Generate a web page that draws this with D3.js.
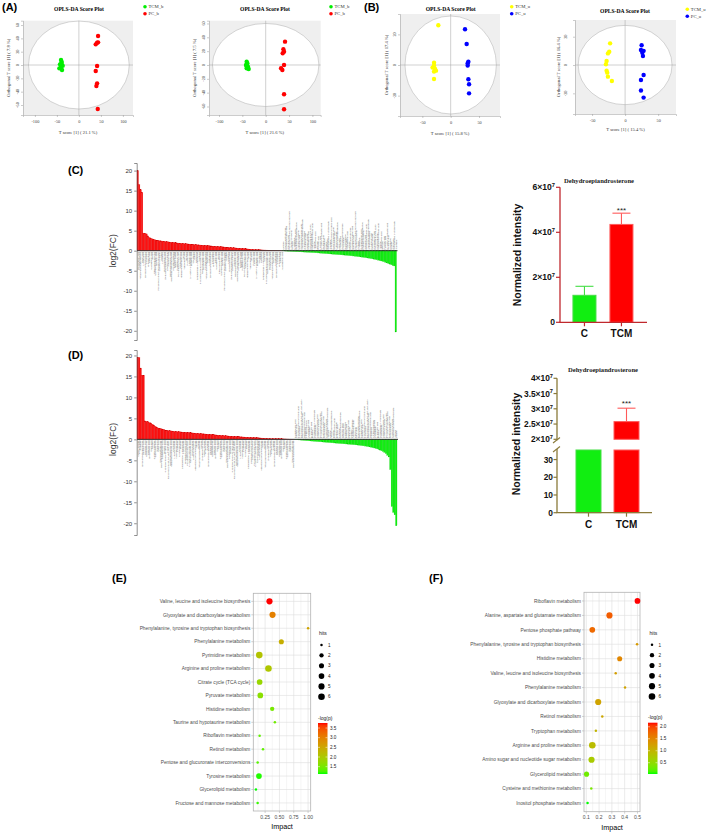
<!DOCTYPE html>
<html><head><meta charset="utf-8">
<script src="https://cdn.jsdelivr.net/npm/d3@7"></script>
<style>body{margin:0;background:#fff}svg{display:block}</style>
</head><body>
<svg id="chart" width="709" height="833"></svg>
<script>
// ---------------- DATA ----------------
const scoreA1_TCM=[[-40.6,7.5],[-39,4.5],[-42.9,1],[-36.8,-1],[-44.4,-5],[-38.3,-7.5],[-40.6,-2.5],[-39.8,2.5]];
const scoreA1_PC=[[43.6,43.5],[41.4,33.5],[38.3,31],[43.6,34],[41.4,-1.5],[38.3,-9],[41.4,-27.5],[39.8,-31.5],[42.9,-66]];
const scoreA2_TCM=[[-40.7,4.8],[-39.3,2.4],[-42.1,0],[-37.9,-2.4],[-40.7,-4.8],[-36.4,-5.8],[-41,-1.4]];
const scoreA2_PC=[[41.4,33.7],[37.9,22.7],[39.3,19.3],[36.4,16.9],[39.3,0],[32.9,-4.8],[35.7,-7.2],[39.3,-42.4],[39.3,-64]];
const scoreB1_TCM=[[-21.8,26],[-29.4,1.5],[-29.4,-0.4],[-28,-2.2],[-32,-1.7],[-25.9,-3.7],[-29.4,-4.3],[-29.4,-9.1]];
const scoreB1_PC=[[25.3,23.3],[28.2,13.7],[31.2,2.2],[30,1.1],[30,-0.3],[31.2,-9.3],[32.4,-12.6],[32.4,-18.5]];
const scoreB2_TCM=[[-22.7,15.3],[-24,9.4],[-26,8.2],[-28,2.8],[-29,0.5],[-28,-4],[-27,-5.4],[-26,-8.2],[-20,-11.3]];
const scoreB2_PC=[[25,14],[24,10.6],[28,10],[26,8.7],[27,6.4],[28,-7],[24,-10.6],[24,-18],[28,-23]];

const fcC_up=[20.0,16.5,15.2,14.6,4.4,4.35,4.2,3.7,3.3,3.1,2.95,2.8,2.7,2.6,2.55,2.5,2.45,2.4,2.35,2.3,2.25,2.2,2.15,2.1,2.05,2.0,1.97,1.94,1.9,1.87,1.84,1.8,1.77,1.74,1.7,1.67,1.64,1.6,1.57,1.54,1.5,1.47,1.44,1.41,1.38,1.35,1.32,1.29,1.26,1.23,1.2,1.17,1.14,1.11,1.08,1.05,1.02,0.99,0.96,0.93,0.9,0.87,0.84,0.81,0.78,0.75,0.72,0.69,0.66,0.63,0.6,0.57,0.54,0.51,0.48,0.45,0.42,0.39,0.36,0.33,0.3,0.28,0.26,0.24,0.22,0.2,0.18,0.17,0.16,0.15,0.14,0.13,0.12,0.11,0.1,0.09,0.08,0.07,0.06,0.05];
const fcC_down=[-0.05,-0.07,-0.09,-0.11,-0.13,-0.15,-0.17,-0.19,-0.21,-0.23,-0.25,-0.27,-0.29,-0.31,-0.33,-0.35,-0.37,-0.39,-0.41,-0.43,-0.45,-0.47,-0.5,-0.53,-0.56,-0.59,-0.62,-0.65,-0.68,-0.71,-0.74,-0.77,-0.8,-0.83,-0.86,-0.89,-0.92,-0.95,-0.98,-1.01,-1.04,-1.07,-1.1,-1.13,-1.16,-1.2,-1.24,-1.28,-1.32,-1.36,-1.4,-1.45,-1.5,-1.55,-1.6,-1.65,-1.7,-1.76,-1.82,-1.88,-1.95,-2.02,-2.1,-2.18,-2.26,-2.35,-2.45,-2.55,-2.65,-2.75,-2.9,-3.05,-3.2,-3.35,-3.5,-3.7,-3.8,-20.3];
const fcD_up=[19.5,19.5,17.0,15.3,15.3,4.4,4.3,4.2,4.0,3.9,3.6,3.4,3.1,2.9,2.7,2.6,2.5,2.4,2.3,2.2,2.15,2.1,2.05,2.0,1.95,1.9,1.87,1.84,1.81,1.78,1.75,1.72,1.69,1.66,1.63,1.6,1.57,1.54,1.51,1.48,1.45,1.42,1.39,1.36,1.33,1.3,1.27,1.24,1.21,1.18,1.15,1.12,1.09,1.06,1.03,1.0,0.97,0.94,0.91,0.88,0.85,0.82,0.79,0.76,0.73,0.7,0.68,0.66,0.64,0.62,0.6,0.58,0.56,0.54,0.52,0.5,0.48,0.46,0.44,0.42,0.4,0.38,0.36,0.34,0.32,0.3,0.28,0.26,0.24,0.22,0.2,0.19,0.18,0.17,0.16,0.15,0.14,0.13,0.12,0.11,0.1,0.09,0.08,0.07,0.06,0.05,0.04];
const fcD_down=[-0.05,-0.08,-0.11,-0.14,-0.17,-0.2,-0.23,-0.26,-0.29,-0.32,-0.35,-0.38,-0.41,-0.44,-0.47,-0.5,-0.53,-0.56,-0.59,-0.62,-0.65,-0.68,-0.71,-0.74,-0.77,-0.8,-0.83,-0.86,-0.89,-0.92,-0.95,-0.98,-1.01,-1.04,-1.07,-1.1,-1.13,-1.16,-1.19,-1.22,-1.25,-1.28,-1.32,-1.36,-1.4,-1.45,-1.5,-1.55,-1.6,-1.66,-1.72,-1.8,-1.88,-1.96,-2.05,-2.15,-2.25,-2.4,-2.55,-2.7,-2.9,-3.1,-3.4,-3.8,-4.2,-7.2,-16.0,-17.4,-18.0,-20.6];
const fcTicks=[-20,-15,-10,-5,0,5,10,15,20];
const metaboliteNames=["L-Carnitine","Dehydroepiandrosterone","Taurocholic acid","Glycocholic acid","Hippuric acid","Indoxyl sulfate","Uridine","Hypoxanthine","LysoPC(18:0/0:0)","Betaine","L-Phenylalanine","PE(18:0/22:6(4Z,7Z,10Z,13Z,16Z))","Pantothenic acid","Riboflavin","Citric acid","Succinic acid","Pyruvic acid","Tetrahydrocorticosterone","LysoPC(16:0/0:0)","PC(16:0/18:2(9Z,12Z))","Sphingosine 1-phosphate","Arachidonic acid","Docosahexaenoic acid","Linoleic acid","Oleic acid","Cortisol","Corticosterone","Xanthine","Inosine","Adenosine monophosphate","N-Acetyl-L-aspartic acid","L-Glutamine","L-Histidine","Imidazolepropionic acid","4-Hydroxyphenylpyruvic acid","Phenylacetylglycine","3-Methylhistidine","Retinoic acid","Glycerophosphocholine","D-Glucuronic acid","Taurine","trans-Cinnamic acid","Ursodeoxycholic acid","Kynurenic acid","Creatinine"];

const insetGroups=["C","TCM"];
const dheaC_mean=[1.2e7,4.35e7];
const dheaC_err=[0.4e7,0.5e7];
const dheaC_ticks=[0,2e7,4e7,6e7];
const dheaD_mean=[1.1e7,2.58e7];
const dheaD_err=[0,0.44e7];
const dheaD_ticksUpper=[2e7,2.5e7,3e7,3.5e7,4e7];
const dheaD_ticksLower=[0,10,20,30];

const pathwaysE=["Valine, leucine and isoleucine biosynthesis","Glyoxylate and dicarboxylate metabolism","Phenylalanine, tyrosine and tryptophan biosynthesis","Phenylalanine metabolism","Pyrimidine metabolism","Arginine and proline metabolism","Citrate cycle (TCA cycle)","Pyruvate metabolism","Histidine metabolism","Taurine and hypotaurine metabolism","Riboflavin metabolism","Retinol metabolism","Pentose and glucuronate interconversions","Tyrosine metabolism","Glycerolipid metabolism","Fructose and mannose metabolism"];
const impactE=[0.326,0.379,1.0,0.533,0.148,0.308,0.154,0.166,0.373,0.42,0.154,0.213,0.119,0.142,0.089,0.119];
const hitsE=[5,5,1,3,6,6,4,4,2,1,1,1,1,4,1,1];
const logpE=[3.76,3.0,2.55,2.4,2.1,2.05,1.78,1.65,1.5,1.45,1.35,1.35,1.3,1.15,1.12,1.2];
const impactTicksE=[0.25,0.5,0.75,1.0];
const logpTicksE=[1.5,2.0,2.5,3.0,3.5];

const pathwaysF=["Riboflavin metabolism","Alanine, aspartate and glutamate metabolism","Pentose phosphate pathway","Phenylalanine, tyrosine and tryptophan biosynthesis","Histidine metabolism","Valine, leucine and isoleucine biosynthesis","Phenylalanine metabolism","Glyoxylate and dicarboxylate metabolism","Retinol metabolism","Tryptophan metabolism","Arginine and proline metabolism","Amino sugar and nucleotide sugar metabolism","Glycerolipid metabolism","Cysteine and methionine metabolism","Inositol phosphate metabolism"];
const impactF=[0.5,0.281,0.147,0.497,0.361,0.33,0.403,0.193,0.225,0.175,0.147,0.141,0.102,0.139,0.11];
const hitsF=[4,5,4,1,3,1,1,5,1,1,6,5,3,1,1];
const logpF=[2.17,1.85,1.75,1.3,1.5,1.25,1.2,1.2,1.15,1.0,0.9,0.72,0.3,0.35,0.03];
const impactTicksF=[0.1,0.2,0.3,0.4,0.5];
const logpTicksF=[0.5,1.0,1.5,2.0];
const hitsLegend=[1,2,3,4,5,6];

// ---------------- DRAW ----------------
const svg=d3.select("#chart");
const SERIF="'Liberation Serif','Times New Roman',serif";
const SANS="'Liberation Sans',Arial,Helvetica,sans-serif";

function txt(g,s,x,y,o={}){
  const t=g.append("text").attr("x",x).attr("y",y).text(s)
    .attr("font-family",o.ff||SANS).attr("font-size",o.fs||6)
    .attr("fill",o.fill||"#000").attr("text-anchor",o.anchor||"start");
  if(o.fw) t.attr("font-weight",o.fw);
  if(o.rot!==undefined) t.attr("transform",`rotate(${o.rot},${x},${y})`);
  return t;
}

// panel letters
[["(A)",2,10.8],["(B)",364,10.8],["(C)",68,174],["(D)",68,359],["(E)",112,581.5],["(F)",429,581.5]]
 .forEach(d=>txt(svg,d[0],d[1],d[2],{fs:11,fw:"bold"}));

// ---- score plots ----
function scorePlot(c){
  const g=svg.append("g");
  const x=d3.scaleLinear().domain(c.xdom).range([c.x0,c.x0+c.w]);
  const y=d3.scaleLinear().domain(c.ydom).range([c.y0+c.h,c.y0]);
  g.append("rect").attr("x",c.x0).attr("y",c.y0).attr("width",c.w).attr("height",c.h).attr("fill","#efefef");
  g.append("ellipse").attr("cx",x(0)).attr("cy",y(0)).attr("rx",x(c.ell[0])-x(0)).attr("ry",y(0)-y(c.ell[1]))
    .attr("fill","#fff").attr("stroke","#b8b8b8").attr("stroke-width",0.6);
  g.append("line").attr("x1",x(0)).attr("x2",x(0)).attr("y1",c.y0).attr("y2",c.y0+c.h).attr("stroke","#a0a0a0").attr("stroke-width",0.5);
  g.append("line").attr("x1",c.x0).attr("x2",c.x0+c.w).attr("y1",y(0)).attr("y2",y(0)).attr("stroke","#a0a0a0").attr("stroke-width",0.5);
  const ax=g.append("g").attr("transform",`translate(0,${c.y0+c.h})`)
    .call(d3.axisBottom(x).tickValues(c.xt).tickSize(2).tickPadding(2.5).tickFormat(d=>String(d)));
  ax.select(".domain").attr("stroke","#999").attr("stroke-width",0.5);
  ax.selectAll(".tick line").attr("stroke","#999").attr("stroke-width",0.5);
  ax.selectAll(".tick text").attr("font-family",SERIF).attr("font-size",4.3).attr("fill","#444");
  const ay=g.append("g").attr("transform",`translate(${c.x0},0)`)
    .call(d3.axisLeft(y).tickValues(c.yt).tickSize(2).tickFormat(""));
  ay.select(".domain").attr("stroke","#999").attr("stroke-width",0.5);
  ay.selectAll(".tick line").attr("stroke","#999").attr("stroke-width",0.5);
  c.yt.forEach(t=>txt(g,String(t),c.yLabX,y(t),{ff:SERIF,fs:4.3,fill:"#444",anchor:"middle",rot:-90}));
  g.selectAll("circle.p1").data(c.g1).join("circle").attr("cx",d=>x(d[0])).attr("cy",d=>y(d[1])).attr("r",2.2).attr("fill",c.c1);
  g.selectAll("circle.p2").data(c.g2).join("circle").attr("cx",d=>x(d[0])).attr("cy",d=>y(d[1])).attr("r",2.2).attr("fill",c.c2);
  txt(g,"OPLS-DA Score Plot",c.titleX,c.titleY,{ff:SERIF,fs:5.6,fw:"bold",anchor:"middle"});
  txt(g,c.xTitle,c.x0+c.w/2,c.xTitleY,{ff:SERIF,fs:4.6,fill:"#333",anchor:"middle"});
  txt(g,c.yTitle,c.yTitleX,c.y0+c.h/2,{ff:SERIF,fs:4.6,fill:"#333",anchor:"middle",rot:-90});
  [[c.n1,c.c1],[c.n2,c.c2]].forEach((d,i)=>{
    g.append("circle").attr("cx",c.legX).attr("cy",c.legY+i*7).attr("r",1.8).attr("fill",d[1]);
    txt(g,d[0],c.legX+3.5,c.legY+i*7+1.6,{ff:SERIF,fs:4.7,fill:"#333"});
  });
}
scorePlot({x0:23,y0:20.7,w:110,h:94.3,xdom:[-127,123],ydom:[-75,66.5],xt:[-100,-50,0,50,100],yt:[-60,-40,-20,0,20,40,60],ell:[114.5,66],
  g1:scoreA1_TCM,g2:scoreA1_PC,c1:"#00ee00",c2:"#ff0000",n1:"TCM_b",n2:"PC_b",legX:145,legY:6.7,titleX:79,titleY:11,
  xTitle:"T score [1] ( 21.1 %)",yTitle:"Orthogonal T score [1] ( 7.8 %)",yTitleX:10.5,yLabX:19.5,xTitleY:134});
scorePlot({x0:209,y0:20.7,w:111.7,h:94.3,xdom:[-121.4,117.8],ydom:[-72.3,64],xt:[-100,-50,0,50,100],yt:[-60,-40,-20,0,20,40,60],ell:[114,60],
  g1:scoreA2_TCM,g2:scoreA2_PC,c1:"#00ee00",c2:"#ff0000",n1:"TCM_b",n2:"PC_b",legX:331,legY:6.7,titleX:265,titleY:11,
  xTitle:"T score [1] ( 21.6 %)",yTitle:"Orthogonal T score [1] ( 7.5 %)",yTitleX:196,yLabX:205,xTitleY:134});
scorePlot({x0:400,y0:14,w:100,h:102,xdom:[-89.4,87],ydom:[-33.3,33.3],xt:[-50,0,50],yt:[-20,0,20],ell:[80.6,32],
  g1:scoreB1_TCM,g2:scoreB1_PC,c1:"#ffff00",c2:"#0000ff",n1:"TCM_u",n2:"PC_u",legX:511.7,legY:6.7,titleX:450.7,titleY:11,
  xTitle:"T score [1] ( 15.8 %)",yTitle:"Orthogonal T score [1] ( 17.4 %)",yTitleX:388,yLabX:396,xTitleY:134.5});
scorePlot({x0:575,y0:20,w:101,h:94,xdom:[-75.8,77],ydom:[-34.6,31.8],xt:[-50,0,50],yt:[-20,0,20],ell:[71,28],
  g1:scoreB2_TCM,g2:scoreB2_PC,c1:"#ffff00",c2:"#0000ff",n1:"TCM_u",n2:"PC_u",legX:687.3,legY:9.3,titleX:625,titleY:12.7,
  xTitle:"T score [1] ( 15.4 %)",yTitle:"Orthogonal T score [1] ( 16.4 %)",yTitleX:559.5,yLabX:567,xTitleY:131});

// ---- log2FC bar charts ----
function fcChart(c){
  const g=svg.append("g");
  const vals=c.up.concat(c.down);
  const x=d3.scaleBand().domain(d3.range(vals.length)).range([c.xL,c.xR]).padding(0);
  const y=d3.scaleLinear().domain(c.ydom).range([c.yB,c.yT]);
  const bw=x.bandwidth(), z=y(0);
  const nP=metaboliteNames.length;
  vals.forEach((v,i)=>{
    const nm=metaboliteNames[(i*c.step+c.off)%nP];
    const cx=x(i)+bw/2;
    if(v>0) txt(g,nm,cx+0.8,z+1.2,{fs:2.5,fill:"#555",anchor:"end",rot:-90});
    else txt(g,nm,cx+0.8,z-1.2,{fs:2.5,fill:"#555",anchor:"start",rot:-90});
  });
  g.selectAll("rect.bar").data(vals).join("rect")
    .attr("x",(d,i)=>x(i)).attr("width",bw)
    .attr("y",d=>Math.min(y(d),z)).attr("height",d=>Math.abs(y(d)-z))
    .attr("fill",d=>d>0?"#ff1010":"#10f010")
    .attr("stroke",d=>d>0?"#d00000":"#00c800").attr("stroke-width",0.25);
  g.append("line").attr("x1",c.xL).attr("x2",c.xR+1).attr("y1",z).attr("y2",z).attr("stroke","#333").attr("stroke-width",1);
  const ay=g.append("g").attr("transform",`translate(${c.ax},0)`)
    .call(d3.axisLeft(y).tickValues(fcTicks).tickSize(2.5).tickPadding(2).tickFormat(d=>String(d)));
  ay.select(".domain").attr("stroke","#444").attr("stroke-width",0.6);
  ay.selectAll(".tick line").attr("stroke","#444").attr("stroke-width",0.6);
  ay.selectAll(".tick text").attr("font-family",SANS).attr("font-size",6).attr("fill","#333");
  txt(g,"log2(FC)",116.5,z,{fs:8.5,fill:"#333",anchor:"middle",rot:-90});
}
fcChart({up:fcC_up,down:fcC_down,xL:137,xR:396.5,ydom:[-22.3,21.9],yB:340,yT:163,ax:136.7,step:7,off:3});
fcChart({up:fcD_up,down:fcD_down,xL:137,xR:397,ydom:[-22.8,21.3],yB:535,yT:350,ax:136.7,step:11,off:5});

// ---- inset helpers ----
function sciLabel(g,v,x,y,fs,fill){
  const t=g.append("text").attr("x",x).attr("y",y).attr("text-anchor","end")
    .attr("font-family",SANS).attr("font-weight","bold").attr("font-size",fs).attr("fill",fill);
  if(v<1000){t.text(String(v));return;}
  const e=Math.floor(Math.log10(v)+1e-9), m=+(v/Math.pow(10,e)).toFixed(2);
  t.append("tspan").text(m+"×10");
  t.append("tspan").text(String(e)).attr("font-size",fs*0.68).attr("dy",-fs*0.38);
}

// Inset C
(function(){
  const g=svg.append("g"), ac="#c0282d";
  const y=d3.scaleLinear().domain([0,6e7]).range([322.3,187.3]);
  const x=d3.scaleBand().domain(insetGroups).range([560,645.9]).paddingInner(0.378).paddingOuter(0.35);
  const fills=["#11ee11","#ff0000"], strokes=["#44dd44","#ff5a5a"];
  insetGroups.forEach((k,i)=>{
    const cx=x(k)+x.bandwidth()/2;
    g.append("line").attr("x1",cx).attr("x2",cx).attr("y1",y(dheaC_mean[i])).attr("y2",y(dheaC_mean[i]+dheaC_err[i])).attr("stroke",strokes[i]).attr("stroke-width",1.1);
    g.append("line").attr("x1",cx-9).attr("x2",cx+9).attr("y1",y(dheaC_mean[i]+dheaC_err[i])).attr("y2",y(dheaC_mean[i]+dheaC_err[i])).attr("stroke",strokes[i]).attr("stroke-width",1.1);
    g.append("rect").attr("x",x(k)).attr("width",x.bandwidth()).attr("y",y(dheaC_mean[i])).attr("height",y(0)-y(dheaC_mean[i]))
      .attr("fill",fills[i]).attr("stroke",strokes[i]).attr("stroke-width",1);
    g.append("line").attr("x1",cx).attr("x2",cx).attr("y1",y(0)).attr("y2",y(0)+4).attr("stroke",ac).attr("stroke-width",1.2);
    txt(g,k,cx,337,{fs:10,fw:"bold",anchor:"middle",fill:"#111"});
  });
  g.append("line").attr("x1",560).attr("x2",560).attr("y1",y(6e7)).attr("y2",y(0)).attr("stroke",ac).attr("stroke-width",1.3);
  g.append("line").attr("x1",559.4).attr("x2",647).attr("y1",y(0)).attr("y2",y(0)).attr("stroke",ac).attr("stroke-width",1.3);
  dheaC_ticks.forEach(t=>{
    g.append("line").attr("x1",556).attr("x2",560).attr("y1",y(t)).attr("y2",y(t)).attr("stroke",ac).attr("stroke-width",1.2);
    sciLabel(g,t,555,y(t)+3,8.6,"#111");
  });
  txt(g,"***",621.5,212.5,{fs:8,anchor:"middle",fill:"#222"});
  txt(g,"Dehydroepiandrosterone",599,183,{ff:SERIF,fs:6.6,fw:"bold",anchor:"middle",fill:"#222"});
  txt(g,"Normalized intensity",521,255,{fs:10.5,fw:"bold",anchor:"middle",rot:-90,fill:"#111"});
})();

// Inset D (broken axis)
(function(){
  const g=svg.append("g"), ac="#8a7a3a";
  const yU=d3.scaleLinear().domain([2e7,4e7]).range([439.3,378.3]);
  const yL=d3.scaleLinear().domain([0,35.4]).range([512.7,450]);
  const x=d3.scaleBand().domain(insetGroups).range([557,658]).paddingInner(0.342).paddingOuter(0.5);
  const fills=["#11ee11","#ff0000"], strokes=["#44dd44","#ff5a5a"];
  insetGroups.forEach((k,i)=>{
    const cx=x(k)+x.bandwidth()/2, v=dheaD_mean[i];
    g.append("rect").attr("x",x(k)).attr("width",x.bandwidth()).attr("y",yL(Math.min(v,35.4))).attr("height",yL(0)-yL(Math.min(v,35.4)))
      .attr("fill",fills[i]).attr("stroke",strokes[i]).attr("stroke-width",1);
    if(v>2e7){
      if(dheaD_err[i]>0){
        g.append("line").attr("x1",cx).attr("x2",cx).attr("y1",yU(v)).attr("y2",yU(v+dheaD_err[i])).attr("stroke",strokes[i]).attr("stroke-width",1.1);
        g.append("line").attr("x1",cx-9).attr("x2",cx+9).attr("y1",yU(v+dheaD_err[i])).attr("y2",yU(v+dheaD_err[i])).attr("stroke",strokes[i]).attr("stroke-width",1.1);
      }
      g.append("rect").attr("x",x(k)).attr("width",x.bandwidth()).attr("y",yU(v)).attr("height",yU(2e7)-yU(v))
        .attr("fill",fills[i]).attr("stroke",strokes[i]).attr("stroke-width",1);
    }
    g.append("line").attr("x1",cx).attr("x2",cx).attr("y1",yL(0)).attr("y2",yL(0)+4).attr("stroke",ac).attr("stroke-width",1.2);
    txt(g,k,cx,528,{fs:10,fw:"bold",anchor:"middle",fill:"#111"});
  });
  g.append("line").attr("x1",557).attr("x2",557).attr("y1",yU(4e7)).attr("y2",yU(2e7)+1).attr("stroke",ac).attr("stroke-width",1.3);
  g.append("line").attr("x1",557).attr("x2",557).attr("y1",yL(35.4)-1).attr("y2",yL(0)).attr("stroke",ac).attr("stroke-width",1.3);
  g.append("line").attr("x1",553).attr("x2",560).attr("y1",443).attr("y2",437.5).attr("stroke",ac).attr("stroke-width",1.1);
  g.append("line").attr("x1",553).attr("x2",560).attr("y1",452).attr("y2",446.5).attr("stroke",ac).attr("stroke-width",1.1);
  g.append("line").attr("x1",556.4).attr("x2",652).attr("y1",yL(0)).attr("y2",yL(0)).attr("stroke",ac).attr("stroke-width",1.3);
  dheaD_ticksUpper.forEach(t=>{
    g.append("line").attr("x1",553.5).attr("x2",557).attr("y1",yU(t)).attr("y2",yU(t)).attr("stroke",ac).attr("stroke-width",1.2);
    sciLabel(g,t,553,yU(t)+3,8.4,"#111");
  });
  dheaD_ticksLower.forEach(t=>{
    g.append("line").attr("x1",553.5).attr("x2",557).attr("y1",yL(t)).attr("y2",yL(t)).attr("stroke",ac).attr("stroke-width",1.2);
    sciLabel(g,t,553,yL(t)+3,8.4,"#111");
  });
  txt(g,"***",626.5,405.5,{fs:8,anchor:"middle",fill:"#222"});
  txt(g,"Dehydroepiandrosterone",603,372,{ff:SERIF,fs:6.6,fw:"bold",anchor:"middle",fill:"#222"});
  txt(g,"Normalized intensity",520,444,{fs:10.5,fw:"bold",anchor:"middle",rot:-90,fill:"#111"});
})();

// ---- bubble charts ----
let gradId=0;
function bubble(c){
  const g=svg.append("g");
  const ext=d3.extent(c.impact), pad=(ext[1]-ext[0])*0.05;
  const x=d3.scaleLinear().domain([ext[0]-pad,ext[1]+pad]).range([c.x0,c.x1]);
  const y=d3.scalePoint().domain(c.names).range([c.y0,c.y1]).padding(0.6);
  const cext=d3.extent(c.logp);
  const col=d3.scaleLinear().domain(cext).range(["#00ff00","#ff0000"]).interpolate(d3.interpolateLab);
  const hx=d3.extent(hitsLegend);
  const dia=d3.scaleLinear().domain([0,1]).range([2.5,6.6]);
  const r=h=>dia(Math.sqrt((h-hx[0])/(hx[1]-hx[0])))/2;
  const grid="#dedede";
  g.append("rect").attr("x",c.x0).attr("y",c.y0).attr("width",c.x1-c.x0).attr("height",c.y1-c.y0).attr("fill","#fff");
  c.minor.forEach(t=>{ if(x(t)>c.x0&&x(t)<c.x1) g.append("line").attr("x1",x(t)).attr("x2",x(t)).attr("y1",c.y0).attr("y2",c.y1).attr("stroke",grid).attr("stroke-width",0.3);});
  c.ticks.forEach(t=>g.append("line").attr("x1",x(t)).attr("x2",x(t)).attr("y1",c.y0).attr("y2",c.y1).attr("stroke",grid).attr("stroke-width",0.6));
  c.names.forEach(n=>g.append("line").attr("x1",c.x0).attr("x2",c.x1).attr("y1",y(n)).attr("y2",y(n)).attr("stroke",grid).attr("stroke-width",0.6));
  g.append("rect").attr("x",c.x0).attr("y",c.y0).attr("width",c.x1-c.x0).attr("height",c.y1-c.y0).attr("fill","none").attr("stroke","#b3b3b3").attr("stroke-width",0.8);
  c.names.forEach((n,i)=>{
    g.append("line").attr("x1",c.x0-2).attr("x2",c.x0).attr("y1",y(n)).attr("y2",y(n)).attr("stroke","#b3b3b3").attr("stroke-width",0.6);
    txt(g,n,c.x0-3,y(n)+1.7,{fs:4.8,fill:"#4d4d4d",anchor:"end"});
  });
  c.ticks.forEach(t=>{
    g.append("line").attr("x1",x(t)).attr("x2",x(t)).attr("y1",c.y1).attr("y2",c.y1+2).attr("stroke","#b3b3b3").attr("stroke-width",0.6);
    txt(g,c.fmt(t),x(t),c.y1+7.5,{fs:5,fill:"#4d4d4d",anchor:"middle"});
  });
  txt(g,"Impact",(c.x0+c.x1)/2,c.y1+18,{fs:7.2,anchor:"middle"});
  c.names.forEach((n,i)=>g.append("circle").attr("cx",x(c.impact[i])).attr("cy",y(n)).attr("r",r(c.hits[i])).attr("fill",col(c.logp[i])));
  txt(g,"hits",c.hx-2.5,c.hy,{fs:5,fill:"#222"});
  hitsLegend.forEach((h,i)=>{
    g.append("circle").attr("cx",c.hx).attr("cy",c.hy+10.3+i*10.35).attr("r",r(h)).attr("fill","#000");
    txt(g,String(h),c.hx+6.5,c.hy+12+i*10.35,{fs:4.6,fill:"#222"});
  });
  const id="grad"+(gradId++);
  const lg=svg.append("defs").append("linearGradient").attr("id",id).attr("x1",0).attr("y1",1).attr("x2",0).attr("y2",0);
  d3.range(0,1.0001,0.05).forEach(t=>lg.append("stop").attr("offset",t).attr("stop-color",col(cext[0]+t*(cext[1]-cext[0]))));
  const cy=d3.scaleLinear().domain(cext).range([c.cb1,c.cb0]);
  txt(g,"-log(p)",c.cbx,c.cb0-3.5,{fs:5,fill:"#222"});
  g.append("rect").attr("x",c.cbx).attr("y",c.cb0).attr("width",9.5).attr("height",c.cb1-c.cb0).attr("fill",`url(#${id})`);
  c.cticks.forEach(t=>{
    g.append("line").attr("x1",c.cbx).attr("x2",c.cbx+2).attr("y1",cy(t)).attr("y2",cy(t)).attr("stroke","#fff").attr("stroke-width",0.5);
    g.append("line").attr("x1",c.cbx+7.5).attr("x2",c.cbx+9.5).attr("y1",cy(t)).attr("y2",cy(t)).attr("stroke","#fff").attr("stroke-width",0.5);
    txt(g,t.toFixed(1),c.cbx+12,cy(t)+1.6,{fs:4.6,fill:"#222"});
  });
}
bubble({names:pathwaysE,impact:impactE,hits:hitsE,logp:logpE,x0:253.3,x1:310.7,y0:593.3,y1:811,
  ticks:impactTicksE,minor:[0.125,0.375,0.625,0.875],fmt:d3.format(".2f"),hx:321.5,hy:634.7,cbx:318,cb0:723,cb1:774,cticks:logpTicksE});
bubble({names:pathwaysF,impact:impactF,hits:hitsF,logp:logpF,x0:584,x1:640,y0:592.3,y1:811.7,
  ticks:impactTicksF,minor:[0.15,0.25,0.35,0.45],fmt:d3.format(".1f"),hx:652,hy:634.5,cbx:648,cb0:722.7,cb1:774,cticks:logpTicksF});
</script></body></html>
